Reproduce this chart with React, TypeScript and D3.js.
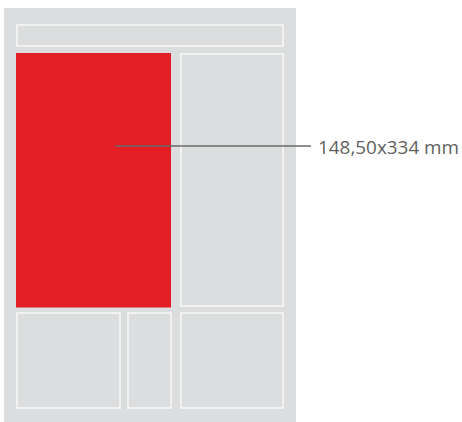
import React from "react";
import * as d3 from "d3";

// Layout units (page grid)
const pageExtent = { x: [0, 292], y: [0, 414] };
const frameNames = ["header", "main", "side", "bottomLeft", "bottomMid", "bottomRight"];
const frameX0 = [12, 12, 176, 12, 123, 176];
const frameX1 = [280, 167, 280, 117, 168, 280];
const frameY0 = [16, 45, 45, 304, 304, 304];
const frameY1 = [39, 299.5, 299, 401, 401, 401];
const highlighted = "main";
const labelText = "148,50x334 mm";
const leaderFrom = [111, 138];
const leaderTo = [307, 138];

export default function App() {
  const W = 462, H = 422;
  const x = d3.scaleLinear().domain(pageExtent.x).range([4, 296]);
  const y = d3.scaleLinear().domain(pageExtent.y).range([8, 422]);
  const line = d3.line<number[]>().x((d) => x(d[0])).y((d) => y(d[1]));
  return (
    <div style={{ position: "fixed", left: 0, top: 0, width: W, height: H, background: "#fff" }}>
      <svg width={W} height={H} style={{ display: "block" }}>
        <rect x={x(pageExtent.x[0])} y={y(pageExtent.y[0])} width={x(pageExtent.x[1]) - x(pageExtent.x[0])} height={y(pageExtent.y[1]) - y(pageExtent.y[0])} fill="#dcdddf" />
        {frameNames.map((n, i) => {
          const isHi = n === highlighted;
          const x0 = x(frameX0[i]), x1 = x(frameX1[i]), y0 = y(frameY0[i]), y1 = y(frameY1[i]);
          return isHi ? (
            <rect key={n} x={x0} y={y0} width={x1 - x0} height={y1 - y0} fill="#e31e25" />
          ) : (
            <rect key={n} x={x0 + 1} y={y0 + 1} width={x1 - x0 - 2} height={y1 - y0 - 2} fill="none" stroke="#f7f7f7" strokeWidth={1.6} />
          );
        })}
        <path d={line([leaderFrom, leaderTo]) || ""} stroke="#6a6a6a" strokeWidth={1.3} fill="none" />
        <text x={x(leaderTo[0]) + 7} y={y(leaderTo[1]) + 7.5} fontFamily="'Open Sans', sans-serif" fontSize={18.9} fill="#5f5f5f">{labelText}</text>
      </svg>
    </div>
  );
}
